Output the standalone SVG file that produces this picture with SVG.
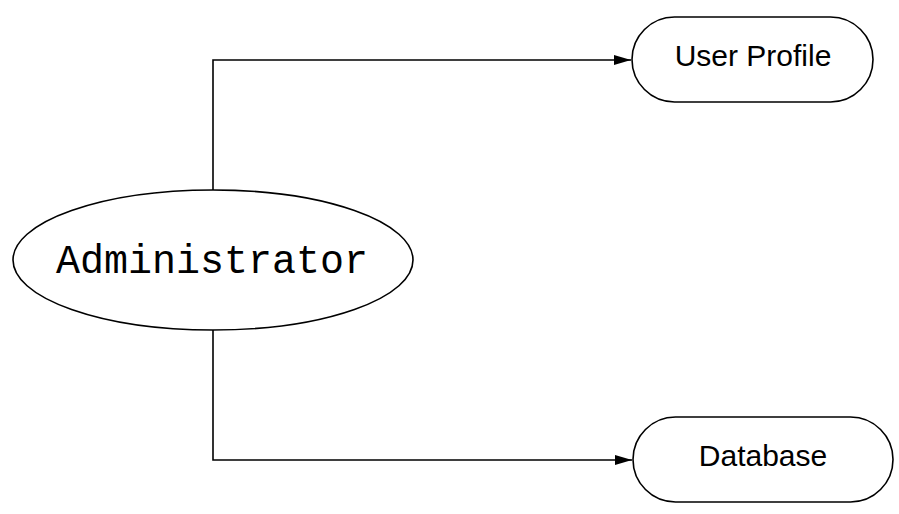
<svg xmlns="http://www.w3.org/2000/svg" width="899" height="514" viewBox="0 0 899 514">
<style>
.shape{fill:#fff;stroke:#000;stroke-width:1.6}
.edge{fill:none;stroke:#000;stroke-width:1.6}
.lbl{font-family:"Liberation Sans",Arial,sans-serif;font-size:30px;fill:#000;text-anchor:middle}
.mono{font-family:"Liberation Mono","DejaVu Sans Mono",monospace;font-size:40px;fill:#000;text-anchor:middle}
</style>
<defs>
<marker id="arr" markerWidth="17" markerHeight="12" refX="17" refY="6" orient="auto" markerUnits="userSpaceOnUse" viewBox="0 0 17 12">
<path d="M0,1 L17,6 L0,11 z" fill="#000"/>
</marker>
</defs>
<rect width="899" height="514" fill="#fff"/>
<g id="connectors">
<path class="edge" d="M213,190 V60 H631" marker-end="url(#arr)"/>
<path class="edge" d="M213,330 V460 H632" marker-end="url(#arr)"/>
</g>
<g id="administrator">
<ellipse class="shape" cx="213" cy="260" rx="200" ry="70"/>
<text class="mono" x="212" y="273">Administrator</text>
</g>
<g id="user-profile">
<rect class="shape" x="632" y="17" width="241" height="85" rx="42.5"/>
<text class="lbl" x="753" y="66">User Profile</text>
</g>
<g id="database">
<rect class="shape" x="633" y="417" width="260" height="85" rx="42.5"/>
<text class="lbl" x="763" y="466">Database</text>
</g>
</svg>
